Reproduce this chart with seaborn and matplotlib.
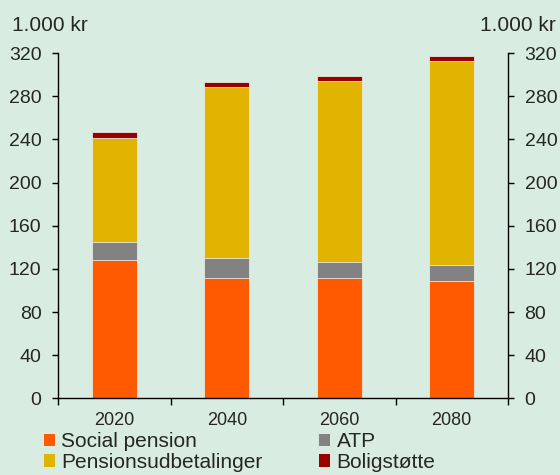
import matplotlib
matplotlib.use("Agg")
import matplotlib.pyplot as plt
import matplotlib.patches as mpatches
import numpy as np
import pandas as pd
import seaborn as sns

# Values (1.000 kr)
years = ["2020", "2040", "2060", "2080"]
socialPension = [128, 112, 112, 109]
atp = [16.5, 18.5, 14, 14.5]
pensionsudbetalinger = [97, 158.5, 168.5, 189]
boligstoette = [5, 4.5, 4.5, 4.7]

seriesNames = ["Social pension", "ATP", "Pensionsudbetalinger", "Boligstøtte"]
colors = ["#FF5A00", "#828282", "#E0B400", "#990000"]
bgColor = "#D9ECE1"

sns.set_theme(style="ticks")
plt.rcParams['font.family'] = ['Liberation Sans', 'DejaVu Sans']

df = pd.DataFrame({
    "Year": years,
    "Social pension": socialPension,
    "ATP": atp,
    "Pensionsudbetalinger": pensionsudbetalinger,
    "Boligstøtte": boligstoette,
})

# cumulative totals so each layer is drawn from zero, biggest first
cum = df[seriesNames].cumsum(axis=1)
cum["Year"] = df["Year"]

fig = plt.figure(figsize=(5.6, 4.75), dpi=100, facecolor=bgColor)
ax = fig.add_axes([0.104, 0.1615, 0.803, 0.7265])
ax.set_facecolor(bgColor)

for name, color in reversed(list(zip(seriesNames, colors))):
    sns.barplot(data=cum, x="Year", y=name, order=years, color=color,
                width=0.4, edgecolor="#E8E8E0", linewidth=0.6,
                saturation=1, ax=ax, zorder=2)

ax.set_xlim(-0.5, 3.5)
ax.set_ylim(0, 320)
ax.set_yticks(np.arange(0, 321, 40))
ax.set_xlabel("")
ax.set_ylabel("")

# x ticks between categories, labels centred under bars
ax.set_xticks(np.arange(-0.5, 3.6, 1.0))
ax.set_xticklabels([])
ax.set_xticks(np.arange(0, 4), minor=True)
ax.set_xticklabels(years, minor=True, fontsize=13)
ax.tick_params(axis="x", which="minor", length=0, pad=10)
ax.tick_params(axis="x", which="major", length=5, width=1, direction="out", color="black")

ax.tick_params(axis="y", left=True, right=True, labelleft=True, labelright=True,
               length=4, width=1, direction="out", labelsize=14, pad=8, color="black")

for side in ["left", "right", "bottom"]:
    ax.spines[side].set_visible(True)
    ax.spines[side].set_color("black")
    ax.spines[side].set_linewidth(1)
ax.spines["top"].set_visible(False)
ax.grid(False)

fig.text(0.021, 0.947, "1.000 kr", fontsize=15, ha="left", va="center")
fig.text(0.993, 0.947, "1.000 kr", fontsize=15, ha="right", va="center")

# legend: row 1 Social pension / ATP, row 2 Pensionsudbetalinger / Boligstøtte
handles = {n: mpatches.Patch(facecolor=c, edgecolor="none") for n, c in zip(seriesNames, colors)}
order = ["Social pension", "Pensionsudbetalinger", "ATP", "Boligstøtte"]
fig.legend([handles[n] for n in order], order, ncol=2, loc="upper left",
           bbox_to_anchor=(0.078, 0.09), frameon=False, fontsize=15,
           handlelength=0.55, handleheight=0.55, handletextpad=0.3,
           columnspacing=2.7, labelspacing=0.08, borderpad=0, borderaxespad=0)

fig.savefig("out.png", dpi=100, facecolor=bgColor)
